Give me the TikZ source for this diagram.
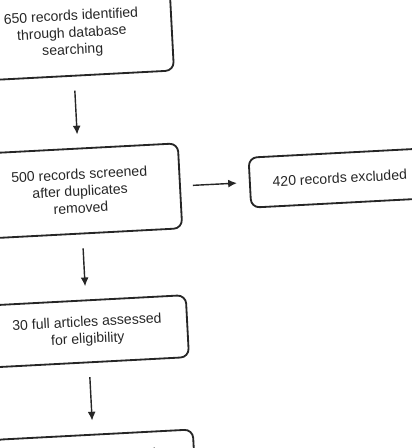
\documentclass[tikz,border=0pt]{standalone}
\usepackage{fontspec}
\setmainfont{Liberation Sans}
\usetikzlibrary{arrows.meta}
\tikzset{
  box/.style={draw=black!85, line width=1.3pt, rounded corners=6pt, minimum width=5cm, align=center, font=\fontsize{10}{12}\selectfont, text=black!85},
  flow/.style={-{Latex[length=2.2mm,width=2mm]}, line width=1pt, draw=black!85, shorten <=0.35cm, shorten >=0.33cm}
}
\begin{document}
\begin{tikzpicture}[x=0.025cm, y=0.025cm]
    \useasboundingbox (0,0) rectangle (412,-448);
    \clip (0,0) rectangle (412,-448);
    \begin{scope}[rotate around={3:(206,-224)}, transform shape]
    % Identification
    \node[box, minimum height=2.1cm] (ident) at (82,-27) {650 records identified\\through database\\searching};
    % Screening
    \node[box, minimum height=2.125cm] (screen) at (82,-184.5) {500 records screened\\after duplicates\\removed};
    \node[box, minimum width=4.5cm, minimum height=1.25cm] (excl) at (342,-185) {420 records excluded};
    % Eligibility
    \node[box, minimum height=1.55cm] (elig) at (82,-325) {30 full articles assessed\\for eligibility};
    % Included
    \node[box, minimum height=1.55cm] (incl) at (82,-459.5) {};
    \node[anchor=north, font=\fontsize{10}{12}\selectfont, text=black!85] (incltext) at (118,-440) {included};

    \draw[flow] (ident) -- (screen);
    \draw[flow, shorten <=0.3cm, shorten >=0.3cm] (screen) -- (excl);
    \draw[flow] (screen) -- (elig);
    \draw[flow] (elig) -- (incl);
    \end{scope}
\end{tikzpicture}
\end{document}
